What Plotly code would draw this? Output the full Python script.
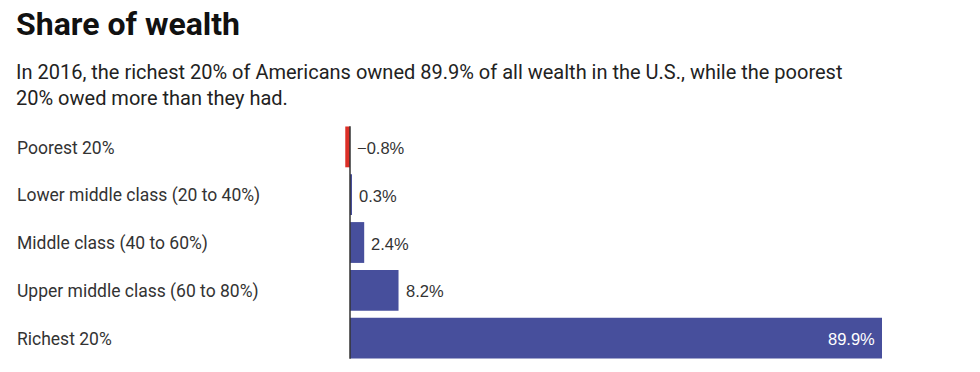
import plotly.graph_objects as go

categories = ["Poorest 20%", "Lower middle class (20 to 40%)", "Middle class (40 to 60%)",
              "Upper middle class (60 to 80%)", "Richest 20%"]
values = [-0.8, 0.3, 2.4, 8.2, 89.9]
value_labels = ["\u22120.8%", "0.3%", "2.4%", "8.2%", "89.9%"]

BLUE = "#474f9c"
RED = "#dc2f27"
colors = [RED if v < 0 else BLUE for v in values]

W, H = 980, 372
top, bottom = 122.5, 9.5
plot_h = H - top - bottom
x_left_px, x_right_px = 340, 900
zero_px = 350
scale = (882 - 350) / 89.9
xmin = -(zero_px - x_left_px) / scale
xmax = (x_right_px - zero_px) / scale

def py(ypx):
    return (H - bottom - ypx) / plot_h

FONT = "Roboto"
VFONT = "Liberation Sans, Arial, sans-serif"
fig = go.Figure(go.Bar(
    x=values, y=categories, orientation="h",
    marker=dict(color=colors, line=dict(width=0)),
    hoverinfo="skip",
))

annotations = []
for c, v, t in zip(categories, values, value_labels):
    annotations.append(dict(x=0, xref="paper", y=c, yref="y", text=c, showarrow=False,
                            xanchor="left", xshift=16 - x_left_px - 1, yshift=-1,
                            font=dict(family=FONT, size=17.5, color="#333333")))
    if v > 50:
        annotations.append(dict(x=v, y=c, xref="x", yref="y", text=t, showarrow=False,
                                xanchor="right", xshift=-5, yshift=-1,
                                font=dict(family=VFONT, size=16.5, color="#ffffff")))
    else:
        annotations.append(dict(x=max(v, 0), y=c, xref="x", yref="y", text=t, showarrow=False,
                                xanchor="left", xshift=5, yshift=-1,
                                font=dict(family=VFONT, size=16.5, color="#333333")))

annotations.append(dict(x=0, xref="paper", xshift=16 - x_left_px - 2, y=py(23), yref="paper",
                        text="<b>Share of wealth</b>", showarrow=False, xanchor="left",
                        yanchor="middle", font=dict(family=FONT, size=32, color="#111111")))
annotations.append(dict(x=0, xref="paper", xshift=16 - x_left_px - 2, y=py(84), yref="paper",
                        text="In 2016, the richest 20% of Americans owned 89.9% of all wealth in the U.S., while the poorest"
                             "<br>20% owed more than they had.",
                        showarrow=False, xanchor="left", yanchor="middle", align="left",
                        font=dict(family=FONT, size=20, color="#222222")))

fig.update_layout(
    width=W, height=H,
    margin=dict(l=x_left_px, r=W - x_right_px, t=top, b=bottom),
    paper_bgcolor="white", plot_bgcolor="white",
    bargap=0.146,
    showlegend=False,
    xaxis=dict(range=[xmin, xmax], showgrid=False, zeroline=False, showticklabels=False,
               showline=False, ticks=""),
    yaxis=dict(type="category", categoryorder="array", categoryarray=categories,
               range=[4.5, -0.5], showgrid=False, zeroline=False, showticklabels=False,
               showline=False, ticks=""),
    shapes=[dict(type="line", xref="x", yref="y", x0=0, x1=0, y0=-0.43, y1=4.43,
                 line=dict(color="#333333", width=1.5))],
    annotations=annotations,
)

fig.write_html("out.html", config={"displayModeBar": False},
               post_script="document.body.style.margin='0';")
